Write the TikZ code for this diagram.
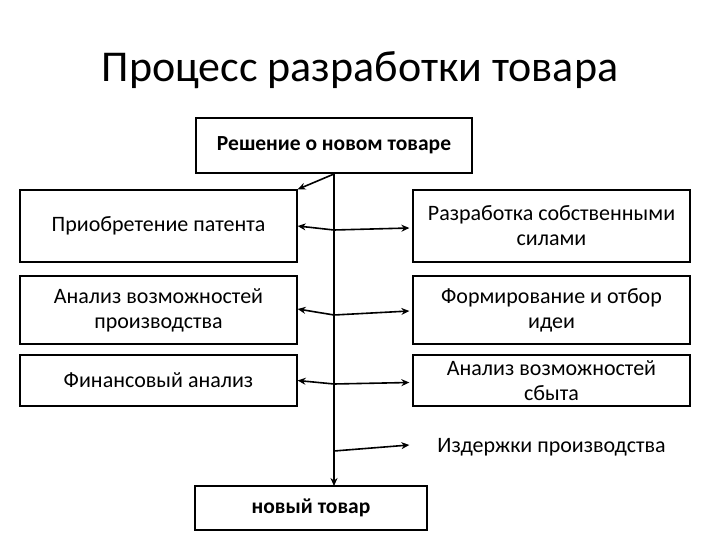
\documentclass[tikz,border=0pt]{standalone}
\usepackage{fontspec}
\setmainfont{Carlito}
\usetikzlibrary{arrows.meta}
\begin{document}
\begin{tikzpicture}[x=1pt,y=-1pt,
  box/.style={draw,line width=1.3pt,align=center,inner sep=0pt,font=\fontsize{22}{25}\selectfont},
  conn/.style={line width=1.6pt,-{Stealth[length=8pt,width=7pt]}},
  dconn/.style={line width=1.6pt,{Stealth[length=8pt,width=7pt]}-{Stealth[length=8pt,width=7pt]}}]
\useasboundingbox (0,0) rectangle (720,540);
\node[font=\fontsize{44}{50}\selectfont] (title) at (360,70) {Процесс разработки товара};
\node[box,minimum width=276pt,minimum height=55pt,font=\fontsize{21.5}{25}\selectfont\bfseries] (top) at (334,145.5) {Решение о новом товаре};
\node[box,minimum width=277pt,minimum height=72pt] (l1) at (158.5,226) {\raisebox{-5pt}{Приобретение патента}};
\node[box,minimum width=277pt,minimum height=72pt] (r1) at (551.5,226) {Разработка собственными\\силами};
\node[box,minimum width=277pt,minimum height=68pt] (l2) at (158.5,310) {Анализ возможностей\\производства};
\node[box,minimum width=277pt,minimum height=68pt] (r2) at (551.5,310) {Формирование и отбор\\идеи};
\node[box,minimum width=277pt,minimum height=51pt] (l3) at (158.5,380.5) {Финансовый анализ};
\node[box,minimum width=277pt,minimum height=51pt] (r3) at (551.5,380.5) {Анализ возможностей\\сбыта};
\node[box,draw=none,minimum width=277pt,minimum height=52pt] (r4) at (551.5,447) {Издержки производства};
\node[box,minimum width=232pt,minimum height=44pt,font=\fontsize{21.5}{25}\selectfont\bfseries] (bot) at (311,508) {\raisebox{-4pt}{новый товар}};
\coordinate (s0) at (334,174);
\coordinate (s1) at (334,230);
\coordinate (s2) at (334,315);
\coordinate (s3) at (334,384);
\coordinate (s4) at (334,451);
\draw[conn] (s0) -- (334,486);
\draw[conn] (s0) -- (l1.north east);
\draw[dconn] ([yshift=0pt]l1.east) -- (s1) -- ([xshift=-3pt,yshift=-2pt]r1.west);
\draw[dconn] ([yshift=1pt]l2.east) -- (s2) -- ([xshift=-3pt,yshift=-1pt]r2.west);
\draw[dconn] ([yshift=0pt]l3.east) -- (s3) -- ([xshift=-3pt,yshift=-2pt]r3.west);
\draw[conn] (s4) -- ([xshift=-3pt,yshift=2pt]r4.west);
\end{tikzpicture}
\end{document}
